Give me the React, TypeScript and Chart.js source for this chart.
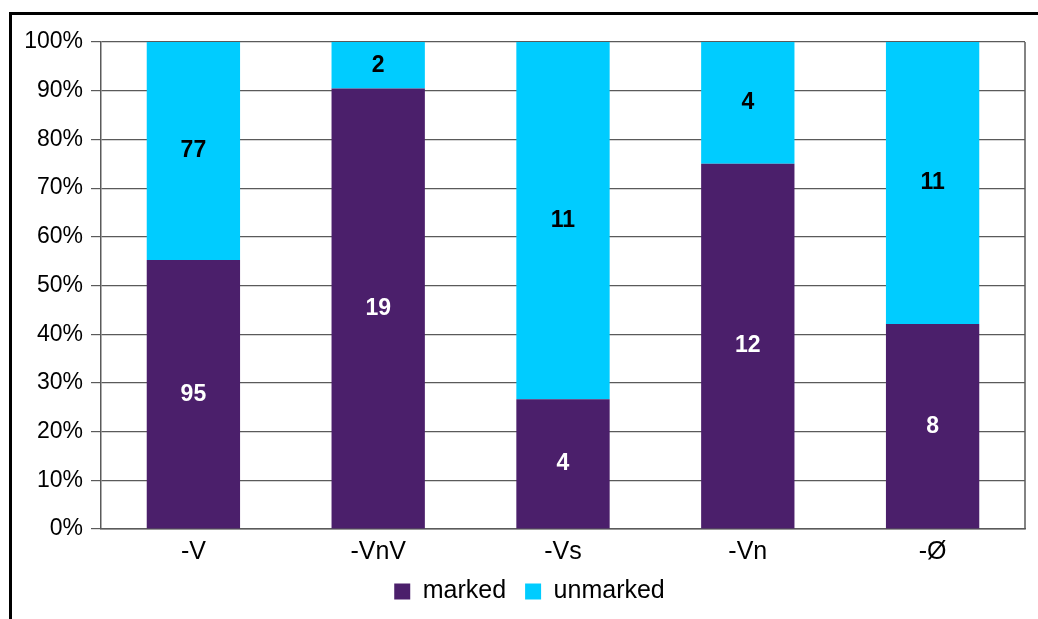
import React, { useEffect, useRef } from "react";
import { Chart, registerables } from "chart.js";

Chart.register(...registerables);

const categories = ["-V", "-VnV", "-Vs", "-Vn", "-Ø"];
const markedCounts = [95, 19, 4, 12, 8];
const unmarkedCounts = [77, 2, 11, 4, 11];
const seriesNames = ["marked", "unmarked"];
const yTicks = [0, 10, 20, 30, 40, 50, 60, 70, 80, 90, 100];

const PURPLE = "#4b1f6b";
const CYAN = "#00ccff";
const GRID = "#5a5a5a";
const FONT = "'Liberation Sans', Arial, sans-serif";

const totals = categories.map((_, i) => markedCounts[i] + unmarkedCounts[i]);
const markedPct = markedCounts.map((v, i) => (v / totals[i]) * 100);
const unmarkedPct = unmarkedCounts.map((v, i) => (v / totals[i]) * 100);
const countsBySeries = [markedCounts, unmarkedCounts];

const framePlugin = {
  id: "frame",
  afterLayout(chart: any) {
    if (chart.legend) {
      chart.legend.left += 17;
      chart.legend.right += 17;
    }
  },
  beforeDraw(chart: any) {
    const ctx = chart.ctx;
    ctx.save();
    ctx.fillStyle = "#ffffff";
    ctx.fillRect(0, 0, chart.width, chart.height);
    ctx.fillStyle = "#000000";
    ctx.fillRect(9, 12, chart.width, 3);
    ctx.fillRect(9, 12, 3, chart.height);
    ctx.restore();
  },
  afterDraw(chart: any) {
    const { ctx, chartArea } = chart;
    ctx.save();
    ctx.strokeStyle = GRID;
    ctx.lineWidth = 1.5;
    ctx.beginPath();
    ctx.moveTo(chartArea.right, chartArea.top);
    ctx.lineTo(chartArea.right, chartArea.bottom);
    ctx.stroke();
    ctx.restore();
  },
};

const labelPlugin = {
  id: "segLabels",
  afterDatasetsDraw(chart: any) {
    const ctx = chart.ctx;
    ctx.save();
    ctx.font = `bold 23px ${FONT}`;
    ctx.textAlign = "center";
    ctx.textBaseline = "middle";
    chart.data.datasets.forEach((ds: any, di: number) => {
      const meta = chart.getDatasetMeta(di);
      ctx.fillStyle = di === 0 ? "#ffffff" : "#000000";
      meta.data.forEach((el: any, i: number) => {
        const y = (el.y + el.base) / 2;
        ctx.fillText(String(countsBySeries[di][i]), el.x, y);
      });
    });
    ctx.restore();
  },
};

export default function App() {
  const ref = useRef<HTMLCanvasElement>(null);
  useEffect(() => {
    if (!ref.current) return;
    const chart = new Chart(ref.current, {
      type: "bar",
      data: {
        labels: categories,
        datasets: [
          {
            label: seriesNames[0],
            data: markedPct,
            backgroundColor: PURPLE,
            borderWidth: 0,
            categoryPercentage: 1,
            barPercentage: 0.505,
          },
          {
            label: seriesNames[1],
            data: unmarkedPct,
            backgroundColor: CYAN,
            borderWidth: 0,
            categoryPercentage: 1,
            barPercentage: 0.505,
          },
        ],
      },
      options: {
        animation: false,
        responsive: false,
        maintainAspectRatio: false,
        layout: { padding: { top: 42, right: 13, left: 0, bottom: 5 } },
        plugins: {
          tooltip: { enabled: false },
          legend: {
            position: "bottom",
            labels: {
              color: "#000",
              font: { family: FONT, size: 25 },
              boxWidth: 16,
              boxHeight: 16,
              padding: 19,
            },
          },
        },
        scales: {
          x: {
            stacked: true,
            afterFit(scale: any) {
              scale.height = scale.height - 15;
            },
            grid: { display: false, drawTicks: false },
            border: { display: true, color: GRID, width: 1.5 },
            ticks: { color: "#000", font: { family: FONT, size: 25 }, padding: 8 },
          },
          y: {
            stacked: true,
            min: 0,
            max: 100,
            afterBuildTicks(scale: any) {
              scale.ticks = yTicks.map((v) => ({ value: v }));
            },
            afterFit(scale: any) {
              scale.width = 101;
            },
            grid: { color: GRID, lineWidth: 1.2, tickLength: 10, drawTicks: true },
            border: { display: true, color: GRID, width: 1.5 },
            ticks: {
              color: "#000",
              font: { family: FONT, size: 23 },
              padding: 8,
              callback: (v: any) => `${v}%`,
            },
          },
        },
      },
      plugins: [framePlugin, labelPlugin],
    });
    return () => chart.destroy();
  }, []);
  return (
    <div style={{ position: "absolute", left: 0, top: 0, width: 1038, height: 619 }}>
      <canvas ref={ref} width={1038} height={619} style={{ display: "block" }} />
    </div>
  );
}
